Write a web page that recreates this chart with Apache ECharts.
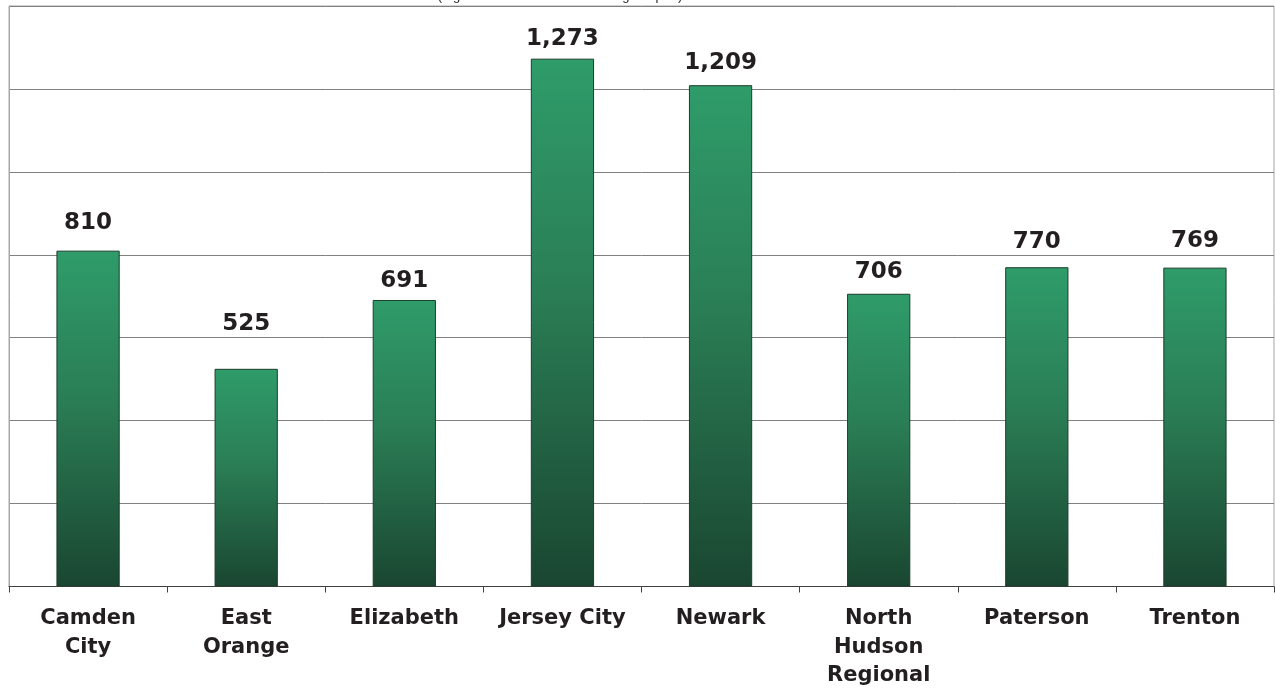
<!DOCTYPE html>
<html><head><meta charset="utf-8">
<script src="https://cdn.jsdelivr.net/npm/echarts@6/dist/echarts.min.js"></script>
<style>html,body{margin:0;padding:0;background:#fff}#c{width:1275px;height:690px}</style>
</head><body><div id="c"></div>
<script>
const categories = ["Camden\nCity", "East\nOrange", "Elizabeth", "Jersey City", "Newark", "North\nHudson\nRegional", "Paterson", "Trenton"];
const values = [810, 525, 691, 1273, 1209, 706, 770, 769];
const subtitle = "(Figures from each district's budget report)";
const yMin = 0, yMax = 1400, yStep = 200;
// extra gap (px) between each value label and its bar, as in the reference
const labelGap = [16, 33, 7, 8, 11, 10, 14, 15];

const chart = echarts.init(document.getElementById('c'), null, {renderer: 'canvas'});
chart.setOption({
  animation: false,
  backgroundColor: '#ffffff',
  title: {
    text: subtitle, left: 555, top: -15, textAlign: 'center',
    textStyle: {fontFamily: 'Liberation Sans, Arial', fontSize: 13, fontWeight: 'normal', color: '#231f20'}
  },
  grid: {left: 9, right: 1, top: 6, bottom: 103, show: true, borderColor: '#a6a6a6', borderWidth: 1},
  xAxis: {
    type: 'category', data: categories,
    axisLine: {lineStyle: {color: '#404040', width: 1}},
    axisTick: {show: true, length: 6, lineStyle: {color: '#404040'}},
    axisLabel: {
      interval: 0, margin: 18, color: '#231f20',
      fontFamily: 'DejaVu Sans', fontWeight: 'bold', fontSize: 21, lineHeight: 28.5
    }
  },
  yAxis: {
    type: 'value', min: yMin, max: yMax, interval: yStep,
    axisLabel: {show: false}, axisTick: {show: false},
    axisLine: {show: true, lineStyle: {color: '#a6a6a6'}},
    splitLine: {lineStyle: {color: '#808080', width: 1}}
  },
  series: [{
    type: 'bar', barCategoryGap: '60%',
    data: values.map((v, i) => ({value: v, label: {distance: labelGap[i]}})),
    itemStyle: {
      borderColor: '#1c3d2c', borderWidth: 1,
      color: new echarts.graphic.LinearGradient(0, 0, 0, 1, [
        {offset: 0, color: '#2f9c6a'},
        {offset: 0.45, color: '#2a7d55'},
        {offset: 1, color: '#1a4631'}
      ])
    },
    label: {
      show: true, position: 'top',
      formatter: p => p.value.toLocaleString('en-US'),
      fontFamily: 'DejaVu Sans', fontWeight: 'bold', fontSize: 23, color: '#231f20'
    }
  }]
});
</script></body></html>
